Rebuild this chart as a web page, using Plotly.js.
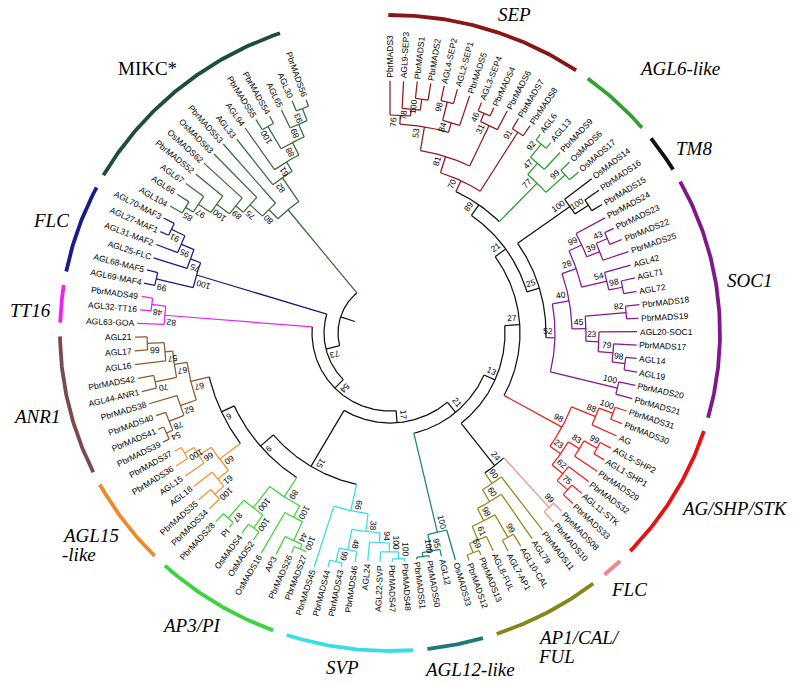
<!DOCTYPE html>
<html><head><meta charset="utf-8">
<script src="https://cdn.plot.ly/plotly-3.0.1.min.js"></script>
<style>html,body{margin:0;padding:0;background:#fff}</style>
</head><body>
<div id="chart" style="width:797px;height:684px"></div>
<script>
// ---------------- DATA ----------------
// Newick-like strings: leaf:depth, (children)bootstrap:depth ; depth = distance from root
const SEP   = "((((PbrMADS3:200,(AGL9-SEP3:200,(PbrMADS1:201,PbrMADS2:201)100:184)78:173)76:166,((AGL4-SEP2:201,AGL2-SEP1:201)98:186,PbrMADS5:198)84:167)53:157,((AGL3-SEP4:196,PbrMADS4:196)46:187,PbrMADS6:199)31:178)81:133,(PbrMADS7:198,PbrMADS8:198)91:186)70:116";
const AGL6  = "(((AGL6:197,AGL13:197)92:190,PbrMADS9:196)47:173,(OsMADS6:196,OsMADS17:196)99:184)77:158";
const TM8   = "(OsMADS14:202,(PbrMADS16:201,PbrMADS15:196)100:184)100:168";
const SOC1  = "((((PbrMADS24:192,((PbrMADS23:195,PbrMADS22:198)43:185,PbrMADS25:200)39:173)99:159,(AGL42:198,(AGL71:199,AGL72:198)98:185)54:171)28:145,((PbrMADS18:199,PbrMADS19:197)82:185,(AGL20-SOC1:195,(PbrMADS17:195,(AGL14:196,AGL19:198)98:185)79:172)23:157)45:144)40:130,(PbrMADS20:199,PbrMADS21:199)100:182)52:113";
const AGC   = "(((PbrMADS31:197,PbrMADS30:197)100:185,AG:197)88:170,(((AGL5-SHP2:197,AGL1-SHP1:197)99:185,PbrMADS29:197)83:170,(PbrMADS32:196,(AGL11-STK:198,PbrMADS33:198)75:185)62:171)23:157)98:144";
const FLCR  = "(PpeMADS08:195,PbrMADS10:198)99:184";
const AP1   = "(PbrMADS11:197,(AGL79:198,((AGL10-CAL:198,AGL7-AP1:196)99:184,(AGL8-FUL:189,(PbrMADS13:188,PbrMADS12:189)59:183)61:173)98:158)60:144)90:130";
const AGL12 = "(OsMADS33:184,(AGL12:177,(PbrMADS50:176,PbrMADS51:176)100:174)95:170)100:153";
const SVP   = "(((((PbrMADS48:177,PbrMADS47:177)100:174,AGL22-SVP:177)100:167,AGL24:177)94:158,(PbrMADS46:180,(PbrMADS43:187,PbrMADS44:190)99:183)48:169)38:148,PbrMADS45:194)66:130";
const AP3   = "((((PbrMADS27:183,PbrMADS26:189)100:182,AP3:197)44:177,OsMADS16:203)100:156,((OsMADS2:196,OsMADS4:197)100:186,(PI:200,PbrMADS28:205)87:194)100:170)89:143";
const AGL15 = "(((PbrMADS34:200,PbrMADS35:202)100:186,AGL18:197)61:174,(AGL15:198,(PbrMADS36:200,PbrMADS37:194)100:186)66:175)60:160";
const ANR1  = "((((PbrMADS39:200,PbrMADS41:199)54:193,PbrMADS40:196)78:186,PbrMADS38:199)62:170,((AGL44-ANR1:203,PbrMADS42:204)70:188,(AGL16:205,(AGL17:204,AGL21:203)66:191)57:174)67:166)67:153";
const TT16  = "(AGL63-GOA:201,(AGL32-TT16:199,PbrMADS49:199)48:188)82:174";
const FLCL  = "((AGL69-MAF4:199,AGL68-MAF5:199)99:188,(AGL25-FLC:196,(AGL31-MAF2:198,(AGL27-MAF1:199,AGL70-MAF3:202)91:190)95:175)75:161)100:150";
const MIKC  = "(((((((AGL104:202,AGL66:202)85:188,AGL67:201)97:179,PbrMADS52:199)100:164,OsMADS62:200)89:148,OsMADS63:199)75:138,PbrMADS53:200)80:121,(AGL33:195,(AGL94:199,((PbrMADS55:200,PbrMADS54:196)100:188,(AGL65:196,(AGL30:200,PbrMADS56:196)93:189)89:176)88:162)61:148)82:137):108";
const BACKBONE = "(((((((((@SEP,@AGL6)89:104,(@TM8,@SOC1)25:104)21:91,@AGC)27:78,(@FLCR,@AP1)24:117)13:63,@AGL12)21:51,(@SVP,(@AP3,(@AGL15,@ANR1)6:134)9:120)15:103)17:38,@TT16)54:26,@FLCL)73:14,@MIKC):0";
const cladeTrees = {SEP, AGL6, TM8, SOC1, AGC, FLCR, AP1, AGL12, SVP, AP3, AGL15, ANR1, TT16, FLCL, MIKC};
const cladeNames = {SEP:["SEP"], AGL6:["AGL6-like"], TM8:["TM8"], SOC1:["SOC1"], AGC:["AG/SHP/STK"], FLCR:["FLC"],
  AP1:["AP1/CAL/","FUL"], AGL12:["AGL12-like"], SVP:["SVP"], AP3:["AP3/PI"], AGL15:["AGL15","-like"], ANR1:["ANR1"],
  TT16:["TT16"], FLCL:["FLC"], MIKC:["MIKC*"]};

// ---------------- STYLE ----------------
const style = {
  SEP:  {line:'#8e1b1b', bar:'#8b1414', nudge:4.3},
  AGL6: {line:'#2f9a2f', bar:'#34a034', nudge:4.3, dr:24},
  TM8:  {line:'#111111', bar:'#111111', nudge:3.0},
  SOC1: {line:'#86168c', bar:'#80188a', nudge:-1.8},
  AGC:  {line:'#ee1c1c', bar:'#e81212', nudge:-3.7},
  FLCR: {line:'#f08c8c', bar:'#f08888', nudge:-0.7},
  AP1:  {line:'#8b8b1a', bar:'#85851a', nudge:-2.2},
  AGL12:{line:'#1f7f7f', bar:'#1d7a7a', nudge:-1.9},
  SVP:  {line:'#35dde0', bar:'#38dde8', nudge:0.9},
  AP3:  {line:'#3fd23f', bar:'#3fd23f', nudge:2.2},
  AGL15:{line:'#f0922b', bar:'#ee8a28', nudge:1.4},
  ANR1: {line:'#8b5a2b', bar:'#7b4b4b', nudge:0},
  TT16: {line:'#ee22ee', bar:'#ee22ee', nudge:-1.7},
  FLCL: {line:'#1a1a80', bar:'#1a1a88', nudge:-0.8},
  MIKC: {line:'#366b36', bar:'#1e4d40', nudge:-2.6, upright:true}
};
const R0 = 52, STEP = 3.093, START = 0, BAR_RX = 330, BAR_RY = 318;
const LEAF_FONT = 8.5, BS_FONT = 8.5, CLADE_FONT = 19;

// ---------------- PARSE ----------------
function parseNewick(s){
  let i = 0;
  function node(){
    const n = {children:[], name:'', label:'', depth:0};
    if (s[i] === '('){
      i++; n.children.push(node());
      while (s[i] === ','){ i++; n.children.push(node()); }
      if (s[i] !== ')') throw new Error('parse error at ' + i);
      i++;
      let lab = ''; while (i < s.length && !',):;'.includes(s[i])) lab += s[i++];
      n.label = lab;
    } else {
      let nm = ''; while (i < s.length && !',():;'.includes(s[i])) nm += s[i++];
      n.name = nm;
    }
    if (s[i] === ':'){ i++; let num=''; while (i < s.length && /[0-9.]/.test(s[i])) num += s[i++]; n.depth = parseFloat(num); }
    return n;
  }
  return node();
}
function tag(n, key){ n.clade = key; n.children.forEach(c => tag(c, key)); }
function expand(n){
  n.children = n.children.map(c => {
    if (c.children.length === 0 && c.name[0] === '@'){
      const key = c.name.slice(1);
      const sub = parseNewick(cladeTrees[key]);
      tag(sub, key);
      return sub;
    }
    expand(c); return c;
  });
}
const root = parseNewick(BACKBONE);
expand(root);

// ---------------- LAYOUT ----------------
const leaves = [];
function assign(n, parent){
  n.parent = parent;
  n.r = R0 + n.depth;
  if (n.children.length === 0){ n.theta = START + leaves.length * STEP; leaves.push(n); }
  else {
    n.children.forEach(c => assign(c, n));
    n.theta = (n.children[0].theta + n.children[n.children.length-1].theta) / 2;
  }
}
assign(root, null);

const D2R = Math.PI/180;
function P(r, t){ return [r*Math.sin(t*D2R), r*Math.cos(t*D2R)]; }
function norm(a){ while (a > 180) a -= 360; while (a <= -180) a += 360; return a; }

const groups = {};
function seg(color, pts){
  if (!groups[color]) groups[color] = {x:[], y:[]};
  const g = groups[color];
  pts.forEach(p => { g.x.push(p[0]); g.y.push(p[1]); });
  g.x.push(null); g.y.push(null);
}
function arcPts(r, t1, t2){
  const pts = []; const n = Math.max(2, Math.ceil(Math.abs(t2-t1)/0.5));
  for (let k = 0; k <= n; k++) pts.push(P(r, t1 + (t2-t1)*k/n));
  return pts;
}
function colorOf(n){ return n.clade ? style[n.clade].line : '#111111'; }
const allNodes = [];
(function walk(n){
  allNodes.push(n);
  if (n.parent) seg(colorOf(n), [P(n.parent.r, n.theta), P(n.r, n.theta)]);
  if (n.children.length){
    seg(colorOf(n), arcPts(n.r, n.children[0].theta, n.children[n.children.length-1].theta));
    n.children.forEach(walk);
  }
})(root);
// root stub
seg('#111111', [P(R0, root.theta), P(R0 - 15, root.theta)]);

const traces = Object.keys(groups).map(c => ({
  type:'scatter', mode:'lines', x:groups[c].x, y:groups[c].y,
  line:{color:c, width:1.25}, hoverinfo:'skip', connectgaps:false
}));

// clade bars (ellipse arcs outside the tree)
function ellPts(t1, t2){
  const pts = []; const n = Math.max(2, Math.ceil((t2-t1)/0.5));
  for (let k = 0; k <= n; k++){ const t = (t1 + (t2-t1)*k/n)*D2R; pts.push([BAR_RX*Math.sin(t), BAR_RY*Math.cos(t)]); }
  return pts;
}
const cladeRange = {};
leaves.forEach(l => {
  const k = l.clade; if (!cladeRange[k]) cladeRange[k] = [l.theta, l.theta];
  cladeRange[k][0] = Math.min(cladeRange[k][0], l.theta);
  cladeRange[k][1] = Math.max(cladeRange[k][1], l.theta);
});
Object.keys(cladeRange).forEach(k => {
  const [a, b] = cladeRange[k];
  const pts = ellPts(a - 0.3, b + 0.3);
  traces.push({type:'scatter', mode:'lines', x:pts.map(p=>p[0]), y:pts.map(p=>p[1]),
    line:{color:style[k].bar, width:3.8}, hoverinfo:'skip'});
});

// ---------------- TEXT ----------------
const cv = document.createElement('canvas').getContext('2d');
function tw(txt, font){ cv.font = font; return cv.measureText(txt).width; }
const ann = [];
const SANS = 'Arial, Liberation Sans, sans-serif';
const SERIF = 'Liberation Serif, DejaVu Serif, Times New Roman, Times, serif';

// leaf labels
leaves.forEach(l => {
  const w = tw(l.name, LEAF_FONT + 'px Arial');
  const rc = l.r + 3 + w/2;
  const [x, y] = P(rc, l.theta);
  const ang = l.theta <= 180 ? l.theta - 90 : l.theta - 270;
  ann.push({x, y, xref:'x', yref:'y', text:l.name, showarrow:false, textangle:norm(ang),
    xanchor:'center', yanchor:'middle', borderpad:0, font:{family:SANS, size:LEAF_FONT, color:'#000000'}});
});
// bootstrap labels
allNodes.forEach(n => {
  if (!n.children.length || !n.label) return;
  const w = tw(n.label, BS_FONT + 'px Arial');
  const rc = n.r - w/2 - 2;
  const t = n.theta - (7/rc)/D2R;
  const [x, y] = P(rc, t);
  ann.push({x, y, xref:'x', yref:'y', text:n.label, showarrow:false, textangle:norm(n.theta - 90),
    xanchor:'center', yanchor:'middle', borderpad:0, font:{family:SANS, size:BS_FONT, color:'#000000'}});
});
// clade labels
Object.keys(cladeRange).forEach(k => {
  const lines = cladeNames[k]; const st = style[k];
  const fnt = (st.upright ? '' : 'italic ') + CLADE_FONT + 'px "Liberation Serif", "DejaVu Serif", serif';
  const W = Math.max(...lines.map(s => tw(s, fnt)));
  const LH = 19, H = 14 + (lines.length-1)*LH;
  const t = (cladeRange[k][0] + cladeRange[k][1])/2 + st.nudge;
  const s = Math.sin(t*D2R), c = Math.cos(t*D2R);
  const rb = Math.hypot(BAR_RX*s, BAR_RY*c);
  const rc = rb + 10 + (st.dr || 0) + Math.abs(s)*W/2 + Math.abs(c)*H/2;
  const [cx, cy] = P(rc, t);
  lines.forEach((ln, i) => {
    const y = cy + ((lines.length-1)/2 - i)*LH;
    const inner = '<span style="font-family:Liberation Serif, DejaVu Serif, serif">' + ln + '</span>';
    ann.push({x: lines.length > 1 ? cx - W/2 : cx, y, xref:'x', yref:'y',
      text: st.upright ? inner : '<i>' + inner + '</i>', showarrow:false,
      xanchor: lines.length > 1 ? 'left' : 'center', yanchor:'middle', borderpad:0,
      font:{family:SERIF, size:CLADE_FONT, color:'#000000'}});
  });
});

const layout = {
  width:797, height:684, margin:{l:0, r:0, t:0, b:0},
  paper_bgcolor:'#ffffff', plot_bgcolor:'#ffffff', showlegend:false, hovermode:false,
  font:{family:SANS},
  xaxis:{range:[-390, 407], visible:false, fixedrange:true},
  yaxis:{range:[-351, 333], visible:false, fixedrange:true},
  annotations: ann
};
Plotly.newPlot('chart', traces, layout, {staticPlot:true, displayModeBar:false});
</script>
</body></html>
